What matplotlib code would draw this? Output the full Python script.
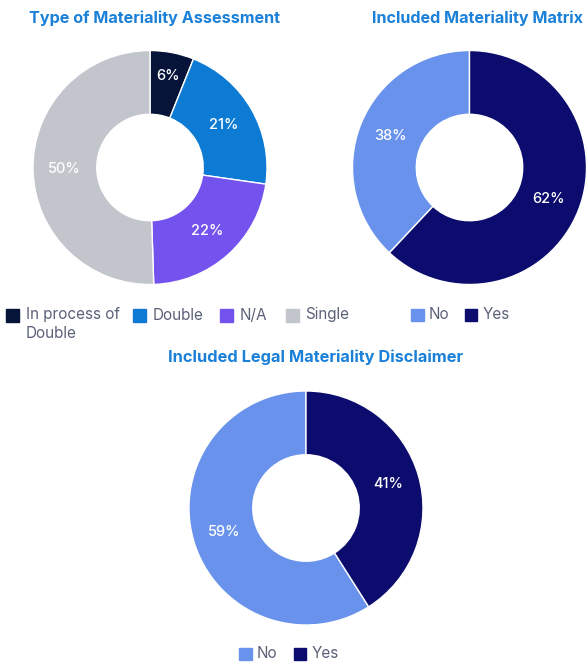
import matplotlib
matplotlib.use("Agg")
import matplotlib.pyplot as plt
import numpy as np
from matplotlib.patches import Rectangle

plt.rcParams['font.family'] = ['Inter', 'DejaVu Sans']

W, H = 587, 662

# ---- data ----
type_labels = ["In process of\nDouble", "Double", "N/A", "Single"]
type_values = [6, 21, 22, 50]
type_colors = ["#07143a", "#0d7bd4", "#7452ee", "#c2c5cc"]

matrix_labels = ["No", "Yes"]
matrix_values = [38, 62]

legal_labels = ["No", "Yes"]
legal_values = [59, 41]

yesno_colors = ["#6892ec", "#0c0c6e"]

titles = ["Type of Materiality Assessment", "Included Materiality Matrix",
          "Included Legal Materiality Disclaimer"]

TITLE_COLOR = "#1a80d8"
LEG_COLOR = "#5b6278"

fig = plt.figure(figsize=(W / 100, H / 100), dpi=100)


def add_pie(cx, cy, r, values, colors, counterclock):
    ax = fig.add_axes([(cx - r) / W, 1 - (cy + r) / H, 2 * r / W, 2 * r / H])
    wedges, _ = ax.pie(values, colors=colors, startangle=90, counterclock=counterclock,
                       radius=1.0, wedgeprops=dict(width=0.545, edgecolor="white", linewidth=1))
    for w, v in zip(wedges, values):
        ang = np.deg2rad((w.theta1 + w.theta2) / 2)
        rr = 0.80 if v < 10 else 0.73
        ax.text(rr * np.cos(ang), rr * np.sin(ang), f"{v}%", ha="center", va="center",
                color="white", fontsize=10.5, fontweight="medium")
    ax.set_xlim(-1, 1)
    ax.set_ylim(-1, 1)
    ax.set_aspect("equal")
    ax.axis("off")
    return ax


def add_legend(items, colors, xs, y, gap=19.5):
    for (lab, col, x) in zip(items, colors, xs):
        fig.patches.append(Rectangle((x / W, 1 - (y + 6.5) / H), 12.5 / W, 12.5 / H,
                                     transform=fig.transFigure, color=col))
        if "\n" in lab:
            fig.text((x + gap) / W, 1 - (y - 8) / H, lab, ha="left", va="top",
                     fontsize=11, color=LEG_COLOR, linespacing=1.3)
        else:
            fig.text((x + gap) / W, 1 - y / H, lab, ha="left", va="center",
                     fontsize=11, color=LEG_COLOR)


add_pie(150, 167.5, 117, type_values, type_colors, counterclock=False)
add_pie(469.5, 167.5, 117, matrix_values, yesno_colors, counterclock=True)
add_pie(306, 508, 117, legal_values, yesno_colors, counterclock=True)

fig.text(154.5 / W, 1 - 18 / H, titles[0], ha="center", va="center", fontsize=11.6,
         fontweight="bold", color=TITLE_COLOR)
fig.text(477.5 / W, 1 - 18 / H, titles[1], ha="center", va="center", fontsize=11.6,
         fontweight="bold", color=TITLE_COLOR)
fig.text(316 / W, 1 - 357 / H, titles[2], ha="center", va="center", fontsize=11.8,
         fontweight="bold", color=TITLE_COLOR)

add_legend(type_labels, type_colors, [6, 133, 220, 286], 315)
add_legend(matrix_labels, yesno_colors, [411, 465], 314.5, gap=17.5)
add_legend(legal_labels, yesno_colors, [239, 294], 653.5, gap=17.5)

fig.savefig("out.png", dpi=100, facecolor="white")
